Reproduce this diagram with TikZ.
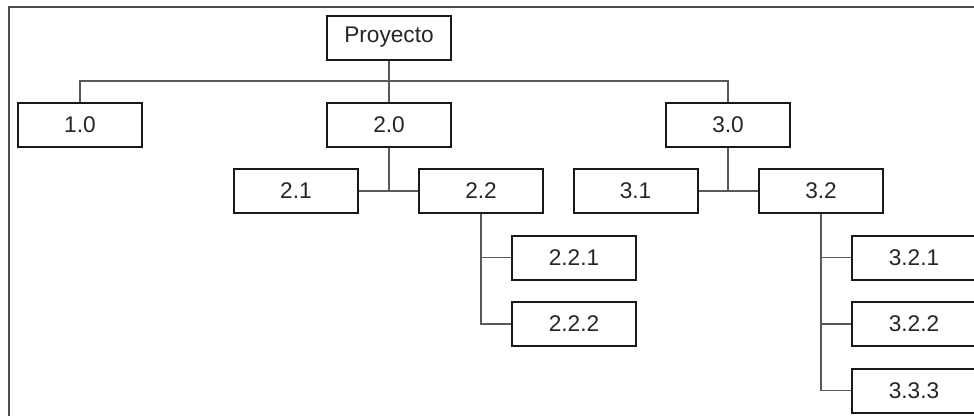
\documentclass[tikz,border=0pt]{standalone}
\usepackage{fontspec}
\setmainfont{Liberation Sans}
\usetikzlibrary{positioning}

\tikzset{
  box/.style={draw=black!90, line width=1.5pt, fill=white, minimum width=93pt,
    minimum height=33pt, inner sep=0pt, text=black!85,
    font=\fontsize{17}{19}\selectfont},
  link/.style={draw=black!65, line width=1pt}
}

\begin{document}
\begin{tikzpicture}[x=0.75pt, y=-0.75pt]

        \useasboundingbox (0,0) rectangle (974,415);
        \clip (0,0) rectangle (974,415);
        \fill[white] (0,0) rectangle (974,415);

        % frame
        \draw[line width=1.3pt, black!70] (9,430) -- (9,7) -- (990,7);

        \node[box] (proy) at (389,37.5) {Proyecto};

        \node[box] (p10) at (80,125) {1.0};
        \node[box] (p20) at (389,125) {2.0};
        \node[box] (p30) at (728,125) {3.0};

        \node[box] (p21) at (296,191) {2.1};
        \node[box] (p22) at (481,191) {2.2};
        \node[box] (p31) at (635.5,191) {3.1};
        \node[box] (p32) at (821,191) {3.2};

        \node[box] (p221) at (574,257.5) {2.2.1};
        \node[box] (p222) at (574,324) {2.2.2};

        \node[box] (p321) at (914,257.5) {3.2.1};
        \node[box] (p322) at (914,324) {3.2.2};
        \node[box] (p333) at (914,390.5) {3.3.3};

        \coordinate (bus) at (389,81);

        \draw[link] (proy) -- (p20);
        \draw[link] (p10.north) |- (bus) -| (p30.north);

        \draw[link] (p20.south) -- (p20.south |- p21.east);
        \draw[link] (p21) -- (p22);
        \draw[link] (p30.south) -- (p30.south |- p31.east);
        \draw[link] (p31) -- (p32);

        \draw[link] (p22.south) |- (p221.west);
        \draw[link] (p22.south) |- (p222.west);

        \draw[link] (p32.south) |- (p321.west);
        \draw[link] (p32.south) |- (p322.west);
        \draw[link] (p32.south) |- (p333.west);
    \end{tikzpicture}
\end{document}
